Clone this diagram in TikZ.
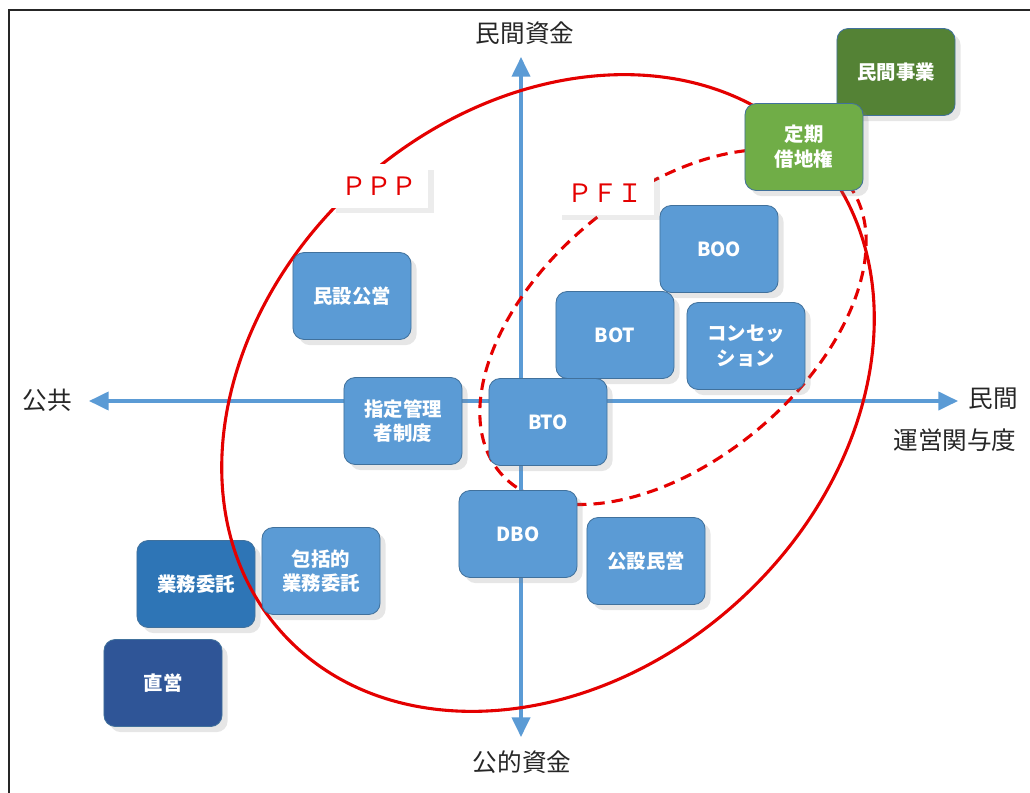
\documentclass[tikz,border=0pt]{standalone}
\usepackage{fontspec}
\setmainfont{Noto Sans CJK JP}
\usetikzlibrary{arrows.meta, shadows}
\definecolor{axisblue}{RGB}{91,155,213}
\definecolor{boxblue}{RGB}{91,155,213}
\definecolor{boxedge}{RGB}{65,113,156}
\definecolor{midblue}{RGB}{46,117,182}
\definecolor{deepblue}{RGB}{47,85,151}
\definecolor{lightgreen}{RGB}{112,173,71}
\definecolor{darkgreen}{RGB}{84,130,53}
\definecolor{zonered}{RGB}{228,0,0}

\begin{document}
\begin{tikzpicture}[x=0.025cm, y=-0.025cm,
  scheme/.style   = {draw=boxedge, line width=0.6pt, fill=boxblue, rounded corners=8pt,
                     minimum width=2.95cm, minimum height=2.175cm, align=center, text=white,
                     font=\fontsize{13.8}{17.5}\selectfont\bfseries,
                     drop shadow={shadow xshift=4pt, shadow yshift=-4pt, opacity=0.2}},
  labeltag/.style = {fill=white, text=zonered, minimum width=2.45cm, minimum height=1.075cm,
                     font=\fontsize{18}{20}\selectfont,
                     drop shadow={shadow xshift=4pt, shadow yshift=-4pt, opacity=0.15}},
  quadaxis/.style = {line width=2.2pt, color=axisblue,
                     {Triangle[length=14pt,width=13pt]}-{Triangle[length=14pt,width=13pt]}},
  axlbl/.style    = {font=\fontsize{17.5}{20}\selectfont, text=black!85},
  zone/.style     = {line width=2.2pt, color=zonered}
]
\useasboundingbox (0,0) rectangle (1030,793);
\draw[line width=1.6pt, black!85] (1030,10) -- (9,10) -- (9,793);

\coordinate (north) at (521,57);
\coordinate (south) at (521,737);
\coordinate (west)  at (89,401);
\coordinate (east)  at (958,401);
\draw[quadaxis] (south) -- (north);
\draw[quadaxis] (west) -- (east);

\node[axlbl] (capN) at (525,33)  {民間資金};
\node[axlbl] (capS) at (522,762) {公的資金};
\node[axlbl] (capW) at (47,400)  {公共};
\node[axlbl] (capE) at (993,399) {民間};
\node[axlbl] (capX) at (955,440) {運営関与度};

\node[scheme, fill=deepblue] (chokuei) at (163,683) {直営};
\node[scheme, fill=midblue]  (gyomu)   at (196,584) {業務委託};

\draw[zone, rotate around={42:(548,393)}] (548,393) ellipse [x radius=8.95cm, y radius=7.05cm];
\draw[zone, dashed, dash pattern=on 8pt off 5pt, rotate around={40:(673,327)}]
  (673,327) ellipse [x radius=5.65cm, y radius=3.325cm];

\node[scheme, fill=darkgreen]  (minkan)  at (896,72)  {民間事業};
\node[scheme, fill=lightgreen] (teiki)   at (804,147) {定期\\借地権};
\node[scheme] (boo)        at (719,249) {BOO};
\node[scheme] (minsetsu)   at (352,296) {民設公営};
\node[scheme] (bot)        at (615,335) {BOT};
\node[scheme] (concession) at (746,346) {コンセッ\\ション};
\node[scheme] (shitei)     at (403,421) {指定管理\\者制度};
\node[scheme] (bto)        at (548,422) {BTO};
\node[scheme] (dbo)        at (518,534) {DBO};
\node[scheme] (kosetsu)    at (646,561) {公設民営};
\node[scheme] (hokatsu)    at (321,571) {包括的\\業務委託};

\node[labeltag] (ppp) at (379,186) {ＰＰＰ};
\node[labeltag] (pfi) at (605,193) {ＰＦＩ};
\end{tikzpicture}
\end{document}
